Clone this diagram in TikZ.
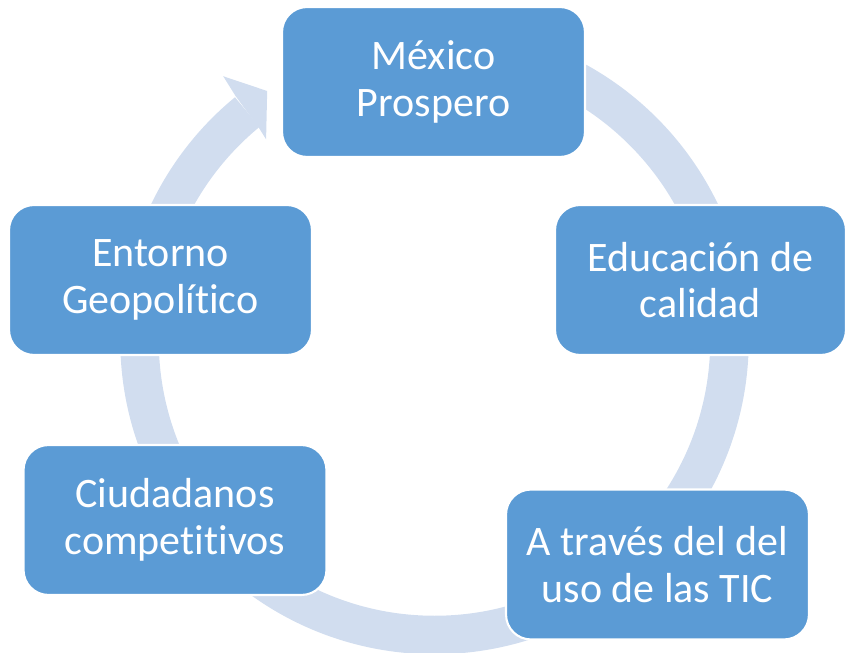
\documentclass[tikz,border=0pt]{standalone}
\usepackage{fontspec}
\setmainfont[Ligatures=NoCommon]{Carlito}
\definecolor{cajaazul}{HTML}{5B9BD5}
\definecolor{anillo}{HTML}{D1DDEF}
\begin{document}
\begin{tikzpicture}[x=0.02cm, y=0.02cm,
  caja/.style={rectangle, rounded corners=0.5cm, fill=cajaazul, draw=white, line width=1.2pt,
    minimum width=6.06cm, minimum height=3cm, inner sep=0pt, align=center, text=white,
    font=\fontsize{23.9pt}{26.5pt}\selectfont}]
\useasboundingbox (0,0) rectangle (846,653);
\coordinate (c) at (434.5,313);
\draw[anillo, line width=0.77cm] ([shift={(90:295)}]c) arc[start angle=90, end angle=-230.6, radius=295];
\fill[anillo] ([shift={(128.7:338)}]c) -- ([shift={(123.9:300)}]c) -- ([shift={(130:262)}]c)
  -- ([shift={(129.6:276)}]c) -- ([shift={(129.2:314.5)}]c) -- cycle;
\node[caja] (mex) at (433.5,571) {México\\Prospero};
\node[caja, minimum width=5.82cm] (edu) at (700.5,373) {Educación de\\calidad};
\node[caja] (tic) at (657.5,88.5) {A través del del\\uso de las TIC};
\node[caja] (ciu) at (175,133) {Ciudadanos\\competitivos};
\node[caja] (ent) at (160.5,373) {Entorno\\Geopolítico};
\end{tikzpicture}
\end{document}
